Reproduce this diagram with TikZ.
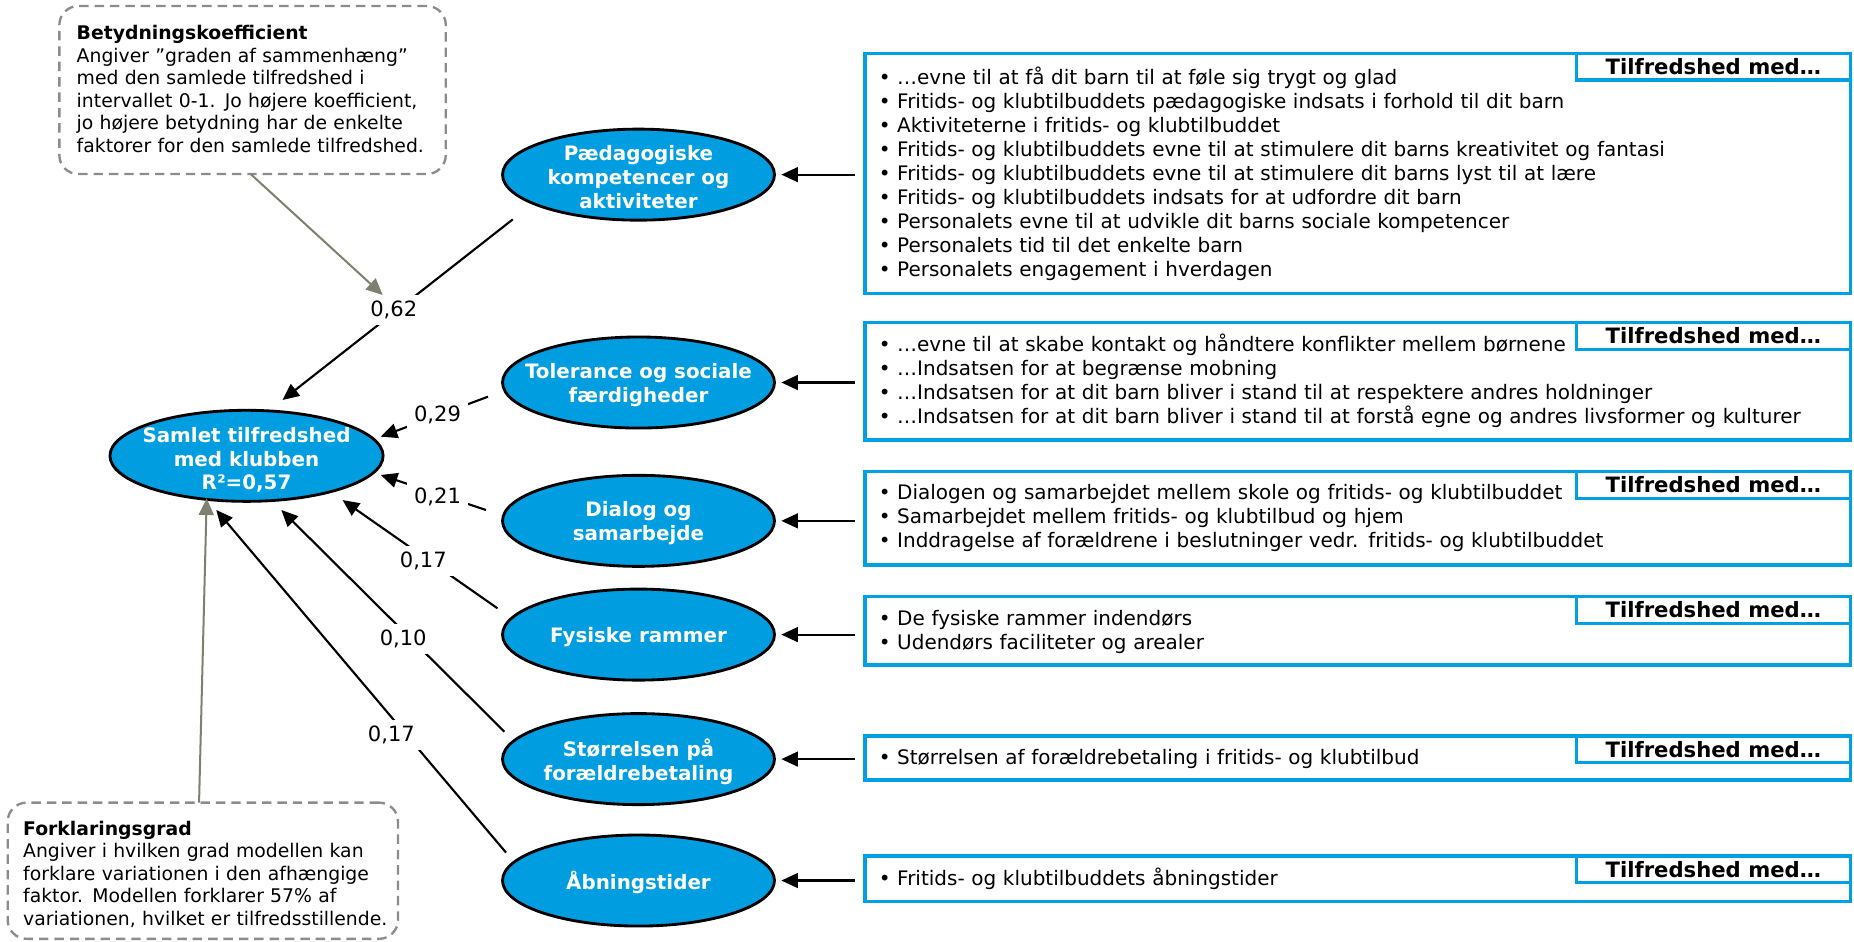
\documentclass[tikz,border=0pt]{standalone}
\usepackage{fontspec}
\setmainfont{DejaVu Sans}
\usetikzlibrary{arrows.meta,calc,shapes.geometric}
\definecolor{ellblue}{RGB}{0,158,224}
\definecolor{boxblue}{RGB}{0,160,226}
\definecolor{olivegray}{RGB}{128,128,112}
\definecolor{dashgray}{RGB}{140,140,140}
\newcommand\fbody{\fontsize{16.9}{20.28}\selectfont}
\newcommand\fsmallx{\fontsize{15.9}{19.05}\selectfont}
\newcommand\flbl{\fontsize{17.8}{21}\selectfont}
\newcommand\fell{\bfseries\fontsize{16.8}{20.1}\selectfont}
\newcommand\ftab{\bfseries\fontsize{17.9}{20}\selectfont}
\begin{document}
\begin{tikzpicture}[x=1pt,y=-1pt,
  ell/.style={ellipse, draw=black, line width=2.4pt, fill=ellblue, minimum width=230pt, minimum height=77pt, inner sep=0pt, outer sep=0pt},
  elltext/.style={text=white, font=\fell, align=center, inner sep=0pt, yshift=-2pt},
  listbox/.style={draw=boxblue, line width=2.8pt, rectangle, inner sep=0pt, outer sep=0pt, minimum width=833.5pt},
  tabbox/.style={draw=boxblue, line width=2.8pt, fill=white, minimum width=232pt, minimum height=22.5pt, inner sep=0pt, outer sep=0pt, font=\ftab, anchor=north east},
  listtext/.style={anchor=base west, font=\fbody, align=left, text width=800pt, inner sep=0pt},
  note/.style={draw=dashgray, dash pattern=on 8pt off 5pt, line width=2pt, rounded corners=16pt, rectangle, inner sep=0pt, outer sep=0pt},
  notetext/.style={anchor=base west, font=\fsmallx, align=left, text width=340pt, inner sep=0pt},
  arr/.style={-{Triangle[length=14pt,width=12.5pt]}, line width=1.8pt, black},
  garr/.style={-{Triangle[length=14pt,width=12.5pt]}, line width=1.7pt, olivegray},
  lbl/.style={fill=white, font=\flbl, inner xsep=6pt, inner ysep=5pt}
]
\useasboundingbox (0,0) rectangle (1568,796);

% notes
\node[note, minimum width=326.8pt, minimum height=142.1pt] (bet) at (213.6,76.15) {};
\node[notetext] (bettext) at (64.7,33.6) {\textbf{Betydningskoefficient}\\Angiver ”graden af sammenhæng”\\med den samlede tilfredshed i\\intervallet 0-1. Jo højere koefficient,\\jo højere betydning har de enkelte\\faktorer for den samlede tilfredshed.};
\node[note, minimum width=330.1pt, minimum height=115.2pt] (for) at (171.55,736.4) {};
\node[notetext] (fortext) at (19.4,706.5) {\textbf{Forklaringsgrad}\\Angiver i hvilken grad modellen kan\\forklare variationen i den afhængige\\faktor. Modellen forklarer 57\% af\\variationen, hvilket er tilfredsstillende.};

% ellipses
\node[ell, minimum width=231pt, label={[elltext, yshift=-1.5pt]center:{Samlet tilfredshed\\med klubben\\R²=0,57}}] (sam) at (208.5,385.5) {};
\node[ell, label={[elltext]center:{Pædagogiske\\kompetencer og\\aktiviteter}}] (pad) at (540,147.7) {};
\node[ell, label={[elltext]center:{Tolerance og sociale\\færdigheder}}] (tol) at (540,323.5) {};
\node[ell, label={[elltext]center:{Dialog og\\samarbejde}}] (dia) at (540,440.5) {};
\node[ell, label={[elltext]center:{Fysiske rammer}}] (fys) at (540,536.7) {};
\node[ell, label={[elltext]center:{Størrelsen på\\forældrebetaling}}] (sto) at (540,642) {};
\node[ell, label={[elltext]center:{Åbningstider}}] (abn) at (540,744.7) {};

% list boxes
\node[listbox, minimum height=202.9pt] (box1) at (1148.25,146.55) {};
\node[listbox, minimum height=99.2pt] (box2) at (1148.25,322.5) {};
\node[listbox, minimum height=78.9pt] (box3) at (1148.25,438.35) {};
\node[listbox, minimum height=57.8pt] (box4) at (1148.25,533.5) {};
\node[listbox, minimum height=37.2pt] (box5) at (1148.25,641.1) {};
\node[listbox, minimum height=38.6pt] (box6) at (1148.25,743.3) {};

\node[listtext] (txt1) at (743,71.5) {• …evne til at få dit barn til at føle sig trygt og glad\\• Fritids- og klubtilbuddets pædagogiske indsats i forhold til dit barn\\• Aktiviteterne i fritids- og klubtilbuddet\\• Fritids- og klubtilbuddets evne til at stimulere dit barns kreativitet og fantasi\\• Fritids- og klubtilbuddets evne til at stimulere dit barns lyst til at lære\\• Fritids- og klubtilbuddets indsats for at udfordre dit barn\\• Personalets evne til at udvikle dit barns sociale kompetencer\\• Personalets tid til det enkelte barn\\• Personalets engagement i hverdagen};
\node[listtext] (txt2) at (743,297.6) {• …evne til at skabe kontakt og håndtere konflikter mellem børnene\\• …Indsatsen for at begrænse mobning\\• …Indsatsen for at dit barn bliver i stand til at respektere andres holdninger\\• …Indsatsen for at dit barn bliver i stand til at forstå egne og andres livsformer og kulturer};
\node[listtext] (txt3) at (743,422.8) {• Dialogen og samarbejdet mellem skole og fritids- og klubtilbuddet\\• Samarbejdet mellem fritids- og klubtilbud og hjem\\• Inddragelse af forældrene i beslutninger vedr. fritids- og klubtilbuddet};
\node[listtext] (txt4) at (743,529.4) {• De fysiske rammer indendørs\\• Udendørs faciliteter og arealer};
\node[listtext] (txt5) at (743,646.4) {• Størrelsen af forældrebetaling i fritids- og klubtilbud};
\node[listtext] (txt6) at (743,749.3) {• Fritids- og klubtilbuddets åbningstider};

\node[tabbox] (tab1) at (box1.north east) {Tilfredshed med…};
\node[tabbox] (tab2) at (box2.north east) {Tilfredshed med…};
\node[tabbox] (tab3) at (box3.north east) {Tilfredshed med…};
\node[tabbox] (tab4) at (box4.north east) {Tilfredshed med…};
\node[tabbox] (tab5) at (box5.north east) {Tilfredshed med…};
\node[tabbox] (tab6) at (box6.north east) {Tilfredshed med…};

% arrows from boxes to factors
\foreach \e/\b in {pad/box1,tol/box2,dia/box3,fys/box4,sto/box5,abn/box6}{
  \draw[arr, shorten <=8.5pt, shorten >=5.8pt] (\e.east -| \b.west) -- (\e.east);
}

% factor -> overall
\draw[arr] ($(pad)+(-106.3,37.8)$) -- ($(sam)+(30.4,-47.2)$);
\draw[arr] ($(tol)+(-127.3,12)$) -- ($(sam)+(113.5,-16.2)$);
\draw[arr] ($(dia)+(-129,-9.2)$) -- ($(sam)+(113.5,16.2)$);
\draw[arr] ($(fys)+(-119.2,-22.2)$) -- ($(sam)+(81.2,37.4)$);
\draw[arr] ($(sto)+(-113.4,-23.2)$) -- ($(sam)+(29.4,45.8)$);
\draw[arr] ($(abn)+(-112,-23.6)$) -- ($(sam)+(-25.6,45.8)$);

% coefficient labels
\node[lbl] (c1) at (333,262) {0,62};
\node[lbl] (c2) at (370,351) {0,29};
\node[lbl] (c3) at (370,420) {0,21};
\node[lbl] (c4) at (358,474.2) {0,17};
\node[lbl] (c5) at (341,540.7) {0,10};
\node[lbl] (c6) at (331,621.6) {0,17};

% explanatory arrows
\draw[garr] ($(bet.south)+(-1.6,0)$) -- ($(c1)+(-9.3,-12.5)$);
\draw[garr] ($(for.north)+(-3.2,0)$) -- ($(sam)+(-33.7,36)$);
\end{tikzpicture}
\end{document}
